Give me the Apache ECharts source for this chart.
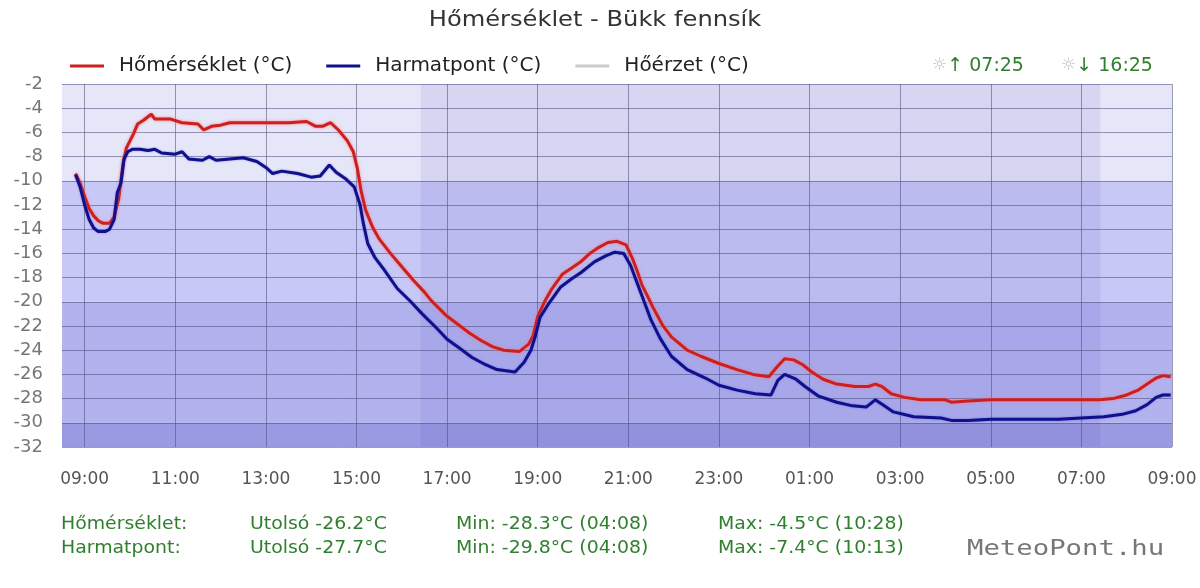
<!DOCTYPE html>
<html>
<head>
<meta charset="utf-8">
<script src="https://cdn.jsdelivr.net/npm/echarts@6/dist/echarts.min.js"></script>
<style>
html, body { margin: 0; padding: 0; background: #fff; }
#chart { width: 1200px; height: 588px; }
</style>
</head>
<body>
<div id="chart"></div>
<script>
// hours since midnight of the first day (24+ = next day)
var tempHours = [8.80, 8.90, 9.00, 9.10, 9.20, 9.30, 9.40, 9.55, 9.65, 9.75, 9.85, 9.92, 10.00, 10.08, 10.17, 10.30, 10.47, 10.55, 10.90,
	11.15, 11.50, 11.63, 11.80, 12.00, 12.20, 13.50, 13.90, 14.10, 14.25, 14.43, 14.60, 14.80, 14.93, 15.02, 15.10, 15.20, 15.35, 15.50,
	15.75, 16.00, 16.25, 16.50, 16.65, 17.00, 17.25, 17.50, 17.75, 18.00, 18.25, 18.60, 18.80, 18.90, 19.00, 19.15, 19.30, 19.55, 19.75,
	19.95, 20.15, 20.35, 20.55, 20.75, 20.95, 21.10, 21.20, 21.30, 21.42, 21.55, 21.75, 21.95, 22.30, 22.60, 23.00, 23.40, 23.75, 24.10,
	24.30, 24.45, 24.65, 24.85, 25.05, 25.30, 25.60, 26.00, 26.30, 26.45, 26.60, 26.80, 27.10, 27.45, 28.00, 28.13, 28.50, 29.00, 29.50,
	30.00, 30.50, 31.00, 31.40, 31.70, 32.00, 32.25, 32.45, 32.65, 32.80, 32.97];
var temperature = [-9.4, -10.2, -11.3, -12.3, -12.9, -13.3, -13.5, -13.5, -13.0, -11.5, -8.5, -7.3, -6.7, -6.1, -5.3, -5.0, -4.5, -4.9, -4.9,
	-5.2, -5.3, -5.8, -5.5, -5.4, -5.2, -5.2, -5.1, -5.5, -5.5, -5.2, -5.8, -6.7, -7.6, -9.0, -10.8, -12.4, -13.8, -14.8,
	-16.0, -17.1, -18.2, -19.2, -19.9, -21.2, -21.9, -22.6, -23.2, -23.7, -24.0, -24.1, -23.5, -22.8, -21.2, -20.0, -19.0, -17.7, -17.2,
	-16.7, -16.0, -15.5, -15.1, -15.0, -15.3, -16.5, -17.5, -18.6, -19.5, -20.5, -21.9, -22.9, -24.0, -24.5, -25.1, -25.6, -26.0, -26.2,
	-25.3, -24.7, -24.8, -25.2, -25.8, -26.4, -26.8, -27.0, -27.0, -26.8, -27.0, -27.6, -27.9, -28.1, -28.1, -28.3, -28.2, -28.1, -28.1,
	-28.1, -28.1, -28.1, -28.1, -28.0, -27.7, -27.3, -26.8, -26.3, -26.1, -26.2];

var dewHours = [8.80, 8.90, 9.00, 9.10, 9.20, 9.30, 9.45, 9.55, 9.65, 9.72, 9.80, 9.87, 9.95, 10.05, 10.22, 10.40, 10.55, 10.70, 11.00,
	11.15, 11.30, 11.60, 11.75, 11.90, 12.20, 12.50, 12.80, 13.00, 13.15, 13.35, 13.70, 14.00, 14.20, 14.40, 14.55, 14.75, 14.95, 15.08,
	15.15, 15.25, 15.40, 15.60, 15.90, 16.20, 16.45, 16.75, 17.00, 17.30, 17.55, 17.80, 18.10, 18.50, 18.70, 18.85, 18.95, 19.05, 19.25,
	19.50, 19.75, 19.95, 20.25, 20.50, 20.70, 20.90, 21.05, 21.20, 21.35, 21.50, 21.70, 21.95, 22.30, 22.70, 23.00, 23.40, 23.80, 24.15,
	24.30, 24.45, 24.70, 24.90, 25.20, 25.60, 25.95, 26.25, 26.45, 26.65, 26.85, 27.30, 27.90, 28.13, 28.50, 29.00, 29.50, 30.00, 30.50,
	31.00, 31.50, 31.90, 32.20, 32.45, 32.65, 32.80, 32.97];
var dewpoint = [-9.5, -10.5, -12.0, -13.2, -13.9, -14.2, -14.2, -14.0, -13.2, -11.0, -10.2, -8.2, -7.6, -7.4, -7.4, -7.5, -7.4, -7.7, -7.8,
	-7.6, -8.2, -8.3, -8.0, -8.3, -8.2, -8.1, -8.4, -8.9, -9.4, -9.2, -9.4, -9.7, -9.6, -8.7, -9.3, -9.8, -10.5, -12.0,
	-13.5, -15.2, -16.3, -17.3, -18.9, -20.0, -21.0, -22.1, -23.1, -23.9, -24.6, -25.1, -25.6, -25.8, -25.0, -24.0, -22.8, -21.3, -20.1,
	-18.8, -18.1, -17.6, -16.7, -16.2, -15.9, -16.0, -17.0, -18.5, -20.0, -21.5, -23.0, -24.5, -25.6, -26.3, -26.9, -27.3, -27.6, -27.7,
	-26.5, -26.0, -26.4, -27.0, -27.8, -28.3, -28.6, -28.7, -28.1, -28.6, -29.1, -29.5, -29.6, -29.8, -29.8, -29.7, -29.7, -29.7, -29.7,
	-29.6, -29.5, -29.3, -29.0, -28.5, -27.9, -27.7, -27.7];

var xTicks = [9, 11, 13, 15, 17, 19, 21, 23, 25, 27, 29, 31, 33];
var sunset = 16 + 25 / 60;
var sunrise = 24 + 7 + 25 / 60;

var statRows = [
	["Hőmérséklet:", "Utolsó -26.2°C", "Min: -28.3°C (04:08)", "Max: -4.5°C (10:28)"],
	["Harmatpont:", "Utolsó -27.7°C", "Min: -29.8°C (04:08)", "Max: -7.4°C (10:13)"]
];

function pairs(xs, ys)
{
	return xs.map(function(x, i){ return [x, ys[i]]; });
}

function hh(v)
{
	var h = Math.round(v) % 24;
	return (h < 10 ? "0" : "") + h + ":00";
}

var chart = echarts.init(document.getElementById("chart"));

var statCols = [61, 250, 456, 718];
var graphics = [];
statRows.forEach(function(row, r){
	row.forEach(function(txt, c){
		graphics.push({
			type: "text", x: statCols[c], y: 525 + r * 24, scaleX: 1.11,
			style: { text: txt, fill: "#2f7f2f", font: "17px 'DejaVu Sans'", verticalAlign: "middle" }
		});
	});
});
graphics.push({
	type: "text", x: 967, y: 550, scaleX: 1.3,
	style: { text: "MeteoPont.hu", fill: "#777", font: "21px 'DejaVu Sans Mono'", verticalAlign: "middle" }
});
// title, slightly widened like the original
graphics.push({
	type: "text", x: 595, y: 21, scaleX: 1.15,
	style: { text: "Hőmérséklet - Bükk fennsík", fill: "#333", font: "21px 'DejaVu Sans'", align: "center", verticalAlign: "middle" }
});
var sunRich = { s: { fill: "#b8ccb8", font: "17px 'DejaVu Sans'" } };
graphics.push({
	type: "text", x: 932, y: 66,
	style: { text: "{s|☼}↑ 07:25", rich: sunRich, fill: "#2f7f2f", font: "19px 'DejaVu Sans'", verticalAlign: "middle" }
});
graphics.push({
	type: "text", x: 1061, y: 66,
	style: { text: "{s|☼}↓ 16:25", rich: sunRich, fill: "#2f7f2f", font: "19px 'DejaVu Sans'", verticalAlign: "middle" }
});

var option = {
	animation: false,
	backgroundColor: "#fff",
	textStyle: { fontFamily: "DejaVu Sans" },
	legend: {
		left: 70, top: 56, padding: 0,
		itemWidth: 34, itemHeight: 3, itemGap: 34,
		icon: "rect",
		textStyle: { fontSize: 20, color: "#222", padding: [0, 0, 0, 10] },
		data: ["Hőmérséklet (°C)", "Harmatpont (°C)", "Hőérzet (°C)"]
	},
	grid: { left: 62, right: 28, top: 84, bottom: 141 },
	xAxis: {
		type: "value", min: 8.5, max: 33, z: 2,
		axisLine: { show: false },
		axisTick: { show: false, customValues: xTicks },
		axisLabel: { customValues: xTicks, formatter: hh, fontSize: 17, color: "#555", margin: 24 },
		splitLine: { show: true, lineStyle: { color: "rgba(75,75,120,0.55)", width: 1 } }
	},
	yAxis: {
		type: "value", min: -32, max: -2, interval: 2, z: 2,
		axisLine: { show: false },
		axisTick: { show: false },
		axisLabel: { fontSize: 18, color: "#777", margin: 19 },
		splitLine: { show: true, lineStyle: { color: "rgba(75,75,120,0.55)", width: 1 } }
	},
	graphic: graphics,
	series: [
		{
			name: "bands", type: "line", data: [], silent: true,
			markArea: {
				silent: true,
				data: [
					[{ yAxis: -10, itemStyle: { color: "#e6e6f9" } }, { yAxis: -2 }],
					[{ yAxis: -20, itemStyle: { color: "#c8c8f6" } }, { yAxis: -10 }],
					[{ yAxis: -30, itemStyle: { color: "#b2b2ef" } }, { yAxis: -20 }],
					[{ yAxis: -32, itemStyle: { color: "#9a9ae2" } }, { yAxis: -30 }],
					[{ xAxis: sunset, itemStyle: { color: "rgba(60,60,190,0.09)" } }, { xAxis: sunrise }]
				]
			}
		},
		{
			name: "Hőmérséklet (°C)", type: "line", z: 5,
			data: pairs(tempHours, temperature),
			showSymbol: false,
			color: "#cc2020",
			lineStyle: { width: 3, color: "#cc2020", shadowColor: "rgba(255,120,120,0.9)", shadowBlur: 3 }
		},
		{
			name: "Harmatpont (°C)", type: "line", z: 5,
			data: pairs(dewHours, dewpoint),
			showSymbol: false,
			color: "#10108a",
			lineStyle: { width: 3, color: "#10108a", shadowColor: "rgba(80,80,220,0.6)", shadowBlur: 2 }
		},
		{
			name: "Hőérzet (°C)", type: "line", z: 5,
			data: [],
			color: "#cccccc"
		}
	]
};

chart.setOption(option);
</script>
</body>
</html>
